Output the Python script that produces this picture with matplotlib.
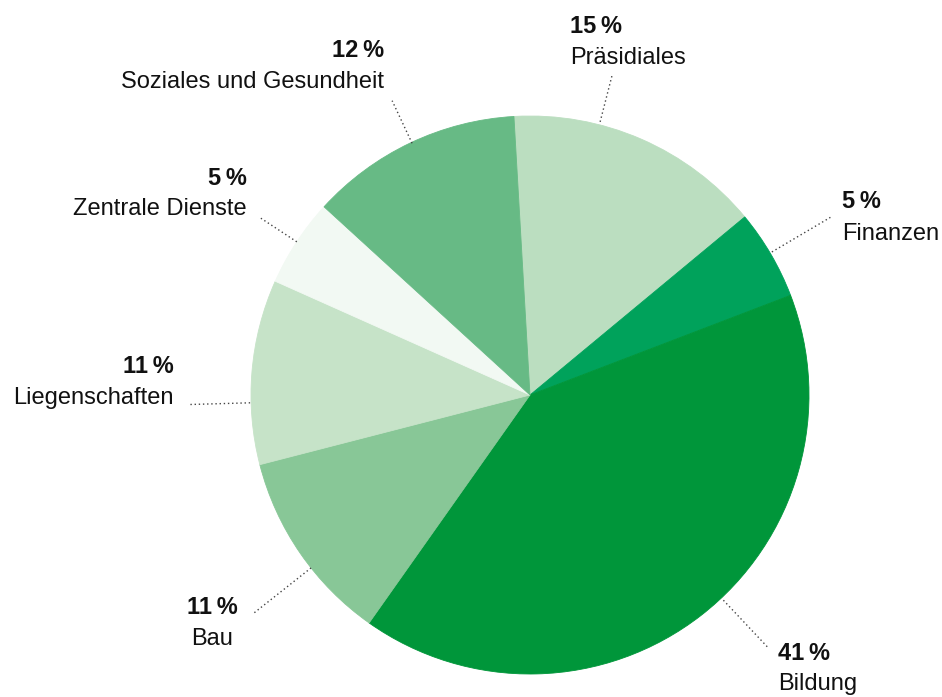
import matplotlib
matplotlib.use("Agg")
import matplotlib.pyplot as plt
import numpy as np

# ---- data ----
categories = ["Präsidiales", "Finanzen", "Bildung", "Bau", "Liegenschaften",
              "Zentrale Dienste", "Soziales und Gesundheit"]
shares = [14.9, 5.2, 40.6, 11.2, 10.7, 5.1, 12.3]
pct_labels = ["15", "5", "41", "11", "11", "5", "12"]
colors = ["#bbdec0", "#00a25b", "#00963a", "#88c797", "#c6e3c8", "#f2f9f3", "#67ba85"]

# ---- layout (pixel space, y measured from top) ----
W, H = 942, 697
CX, CY, R = 530, 395, 279
START = 93.3
# leader line: angle clockwise from top (deg), inner radius, outer radius
leader_angle = [14.4, 59.4, 136.7, 231.7, 268.4, 303.3, 334.9]
leader_r0 = [282, 281, 282, 279, 280, 279, 278]
leader_r1 = [330, 349, 348, 352, 340, 322, 325]
# text anchor x, baseline y of percent line, baseline y of name line, alignment
text_x = [570, 842, 778, 212, 174, 247, 384]
pct_y = [33, 208, 660, 614, 373, 185, 57]
name_y = [64, 240, 690, 645, 404, 215, 88]
align = ["left", "left", "left", "center", "right", "right", "right"]

fig = plt.figure(figsize=(W / 100, H / 100), dpi=100)
ax = fig.add_axes([0, 0, 1, 1])

ax.pie(shares, colors=colors, center=(CX, H - CY), radius=R,
       startangle=START, counterclock=False,
       wedgeprops=dict(linewidth=0.6, antialiased=True),
       frame=False)
for w, c in zip(ax.patches, colors):
    w.set_edgecolor(c)

ax.set_xlim(0, W)
ax.set_ylim(0, H)
ax.set_aspect("auto")
ax.axis("off")

fam = ["Liberation Sans", "DejaVu Sans"]
for i, name in enumerate(categories):
    a = np.deg2rad(leader_angle[i])
    x0 = CX + leader_r0[i] * np.sin(a)
    y0 = CY - leader_r0[i] * np.cos(a)
    x1 = CX + leader_r1[i] * np.sin(a)
    y1 = CY - leader_r1[i] * np.cos(a)
    ax.plot([x0, x1], [H - y0, H - y1], color="#444444", lw=1.0,
            linestyle=(0, (1, 2)), solid_capstyle="butt")
    ax.text(text_x[i], H - pct_y[i], pct_labels[i] + "\u2009%", ha=align[i],
            va="baseline", fontsize=17, fontweight="bold", family=fam, color="#111111")
    ax.text(text_x[i], H - name_y[i], name, ha=align[i],
            va="baseline", fontsize=17, family=fam, color="#111111")

fig.savefig("out.png", dpi=100)
